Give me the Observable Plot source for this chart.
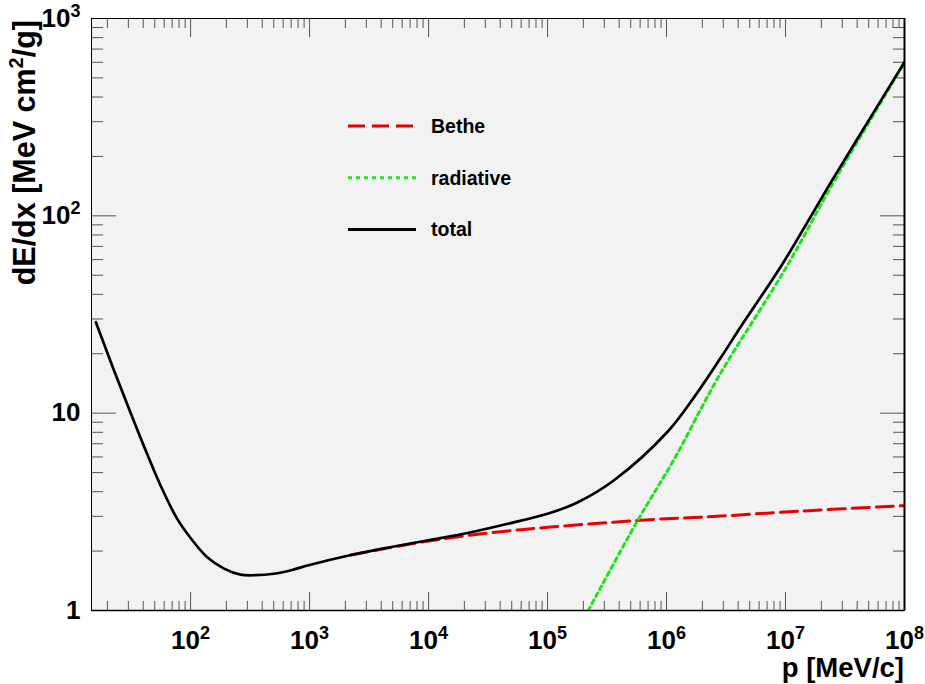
<!DOCTYPE html>
<html><head><meta charset="utf-8">
<script src="https://cdn.jsdelivr.net/npm/d3@7"></script>
<script src="https://cdn.jsdelivr.net/npm/@observablehq/plot@0.6"></script>
<style>body{margin:0;background:#fff;} svg{display:block}</style>
</head><body><div id="chart"></div>
<script>
// ---- data ----
const totalP = [16, 22.6, 31.3, 43, 56, 77, 100, 138, 191, 263, 350, 500, 700, 1000, 2225, 4500, 1e4, 21300, 46400, 1e5, 1.8e5, 3.6e5, 1.03e6, 1.73e6, 2.89e6, 4.27e6, 9.25e6, 2.44e7, 4.96e7, 1e8];
const totalV = [28.9, 16.6, 10.05, 6.24, 4.29, 2.92, 2.33, 1.86, 1.63, 1.52, 1.51, 1.535, 1.60, 1.70, 1.91, 2.08, 2.27, 2.47, 2.75, 3.09, 3.54, 4.56, 8.1, 12.2, 19.3, 27.8, 56, 150, 302, 601];
const betheP = [2225, 4500, 1e4, 21300, 46400, 1e5, 3.6e5, 1e6, 1.96e6, 1.36e7, 1e8];
const betheV = [1.91, 2.07, 2.25, 2.40, 2.53, 2.64, 2.80, 2.92, 2.97, 3.19, 3.40];
const radP = [2.2e5, 5.57e5, 1.17e6, 2.72e6, 1e7, 2.5e7, 5e7, 1e8];
const radV = [1.0, 2.78, 5.9, 15.2, 54, 146, 296, 598];

const seriesNames = ["Bethe", "radiative", "total"];
const xDomain = [14.7, 1e8];
const yDomain = [1, 1000];
const xMajor = [1e2, 1e3, 1e4, 1e5, 1e6, 1e7, 1e8];
const xMajorLabels = ["10^2", "10^3", "10^4", "10^5", "10^6", "10^7", "10^8"];
const yMajor = [1, 10, 100, 1000];
const yMajorLabels = ["1", "10", "10^2", "10^3"];
const mults = [2, 3, 4, 5, 6, 7, 8, 9];
const xMinor = [10, 100, 1e3, 1e4, 1e5, 1e6, 1e7].flatMap(d => mults.map(m => m * d)).filter(v => v >= xDomain[0] && v < 1e8);
const yMinor = [1, 10, 100].flatMap(d => mults.map(m => m * d));

const toRows = (P, V) => P.map((p, i) => ({p, v: V[i]}));
const font = "'Liberation Sans', Arial, Helvetica, sans-serif";
const tickColor = "#555";
const colors = {Bethe: "#e60000", radiative: "#1ee31e", total: "#000"};
const dashes = {Bethe: "17,7", radiative: "4,4", total: null};

const xl = new Map(xMajor.map((d, i) => [d, xMajorLabels[i]]));
const yl = new Map(yMajor.map((d, i) => [d, yMajorLabels[i]]));

const plot = Plot.plot({
  width: 925, height: 684,
  marginLeft: 91, marginRight: 21, marginTop: 18, marginBottom: 74,
  x: {type: "log", domain: xDomain},
  y: {type: "log", domain: yDomain},
  style: {fontFamily: font, background: "white", color: "black"},
  marks: [
    Plot.frame({fill: "#f2f2f2", stroke: null}),
    // ticks (inward)
    Plot.axisX({anchor: "bottom", ticks: xMinor, tickSize: -9, fill: "none", label: null, stroke: tickColor}),
    Plot.axisX({anchor: "bottom", ticks: xMajor, tickSize: -18, fill: "none", label: null, stroke: tickColor}),
    Plot.axisX({anchor: "top", ticks: xMinor, tickSize: -9, fill: "none", label: null, stroke: tickColor}),
    Plot.axisX({anchor: "top", ticks: xMajor, tickSize: -18, fill: "none", label: null, stroke: tickColor}),
    Plot.axisY({anchor: "left", ticks: yMinor, tickSize: -12, fill: "none", label: null, stroke: tickColor}),
    Plot.axisY({anchor: "left", ticks: yMajor, tickSize: -25, fill: "none", label: null, stroke: tickColor}),
    Plot.axisY({anchor: "right", ticks: yMinor, tickSize: -12, fill: "none", label: null, stroke: tickColor}),
    Plot.axisY({anchor: "right", ticks: yMajor, tickSize: -25, fill: "none", label: null, stroke: tickColor}),
    // tick labels
    Plot.axisX({anchor: "bottom", ticks: xMajor, tickSize: 0, tickPadding: 20, label: null, tickFormat: d => xl.get(d), fontSize: 26, fontWeight: "bold"}),
    Plot.axisY({anchor: "left", ticks: yMajor, tickSize: 0, tickPadding: 11, label: null, tickFormat: d => yl.get(d), fontSize: 26, fontWeight: "bold"}),
    // curves
    Plot.line(toRows(betheP, betheV), {x: "p", y: "v", stroke: colors.Bethe, strokeWidth: 3, strokeDasharray: dashes.Bethe, curve: "catmull-rom", clip: true}),
    Plot.line(toRows(radP, radV), {x: "p", y: "v", stroke: colors.radiative, strokeWidth: 3, strokeDasharray: dashes.radiative, curve: "catmull-rom", clip: true}),
    Plot.line(toRows(totalP, totalV), {x: "p", y: "v", stroke: colors.total, strokeWidth: 2.7, curve: "catmull-rom", clip: true}),
    Plot.frame({stroke: "black", strokeWidth: 1}),
    Plot.ruleX([xDomain[1]], {stroke: "black", strokeWidth: 2}),
    Plot.ruleY([yDomain[0]], {stroke: "black", strokeWidth: 1.5})
  ]
});

const NS = "http://www.w3.org/2000/svg";
// superscripts on tick labels
plot.querySelectorAll("text").forEach(t => {
  const m = t.textContent.match(/^(\d+)\^(\d+)$/);
  if (!m) return;
  t.textContent = m[1];
  const s = document.createElementNS(NS, "tspan");
  s.setAttribute("font-size", "18");
  s.setAttribute("dy", "-10");
  s.textContent = m[2];
  t.appendChild(s);
});

const svg = d3.select(plot);
// axis titles
const yt = svg.append("text")
  .attr("transform", "translate(35,20) rotate(-90)")
  .attr("text-anchor", "end")
  .attr("font-family", font).attr("font-weight", "bold").attr("font-size", 30.5);
yt.append("tspan").text("dE/dx [MeV cm");
yt.append("tspan").attr("font-size", 20).attr("dy", -12).text("2");
yt.append("tspan").attr("dy", 12).text("/g]");

svg.append("text")
  .attr("x", 904).attr("y", 677)
  .attr("text-anchor", "end")
  .attr("font-family", font).attr("font-weight", "bold").attr("font-size", 27.5)
  .text("p [MeV/c]");

// legend
const lg = svg.append("g");
seriesNames.forEach((name, i) => {
  const y = 126 + i * 51.7;
  const ln = lg.append("line").attr("x1", 348).attr("x2", 416).attr("y1", y).attr("y2", y)
    .attr("stroke", colors[name]).attr("stroke-width", 3);
  if (dashes[name]) ln.attr("stroke-dasharray", dashes[name]);
  lg.append("text").attr("x", 431).attr("y", y).attr("dy", "0.35em")
    .attr("text-anchor", "start")
    .attr("font-family", font).attr("font-weight", "bold").attr("font-size", 19.5)
    .text(name);
});

document.getElementById("chart").appendChild(plot);
</script>
</body></html>
